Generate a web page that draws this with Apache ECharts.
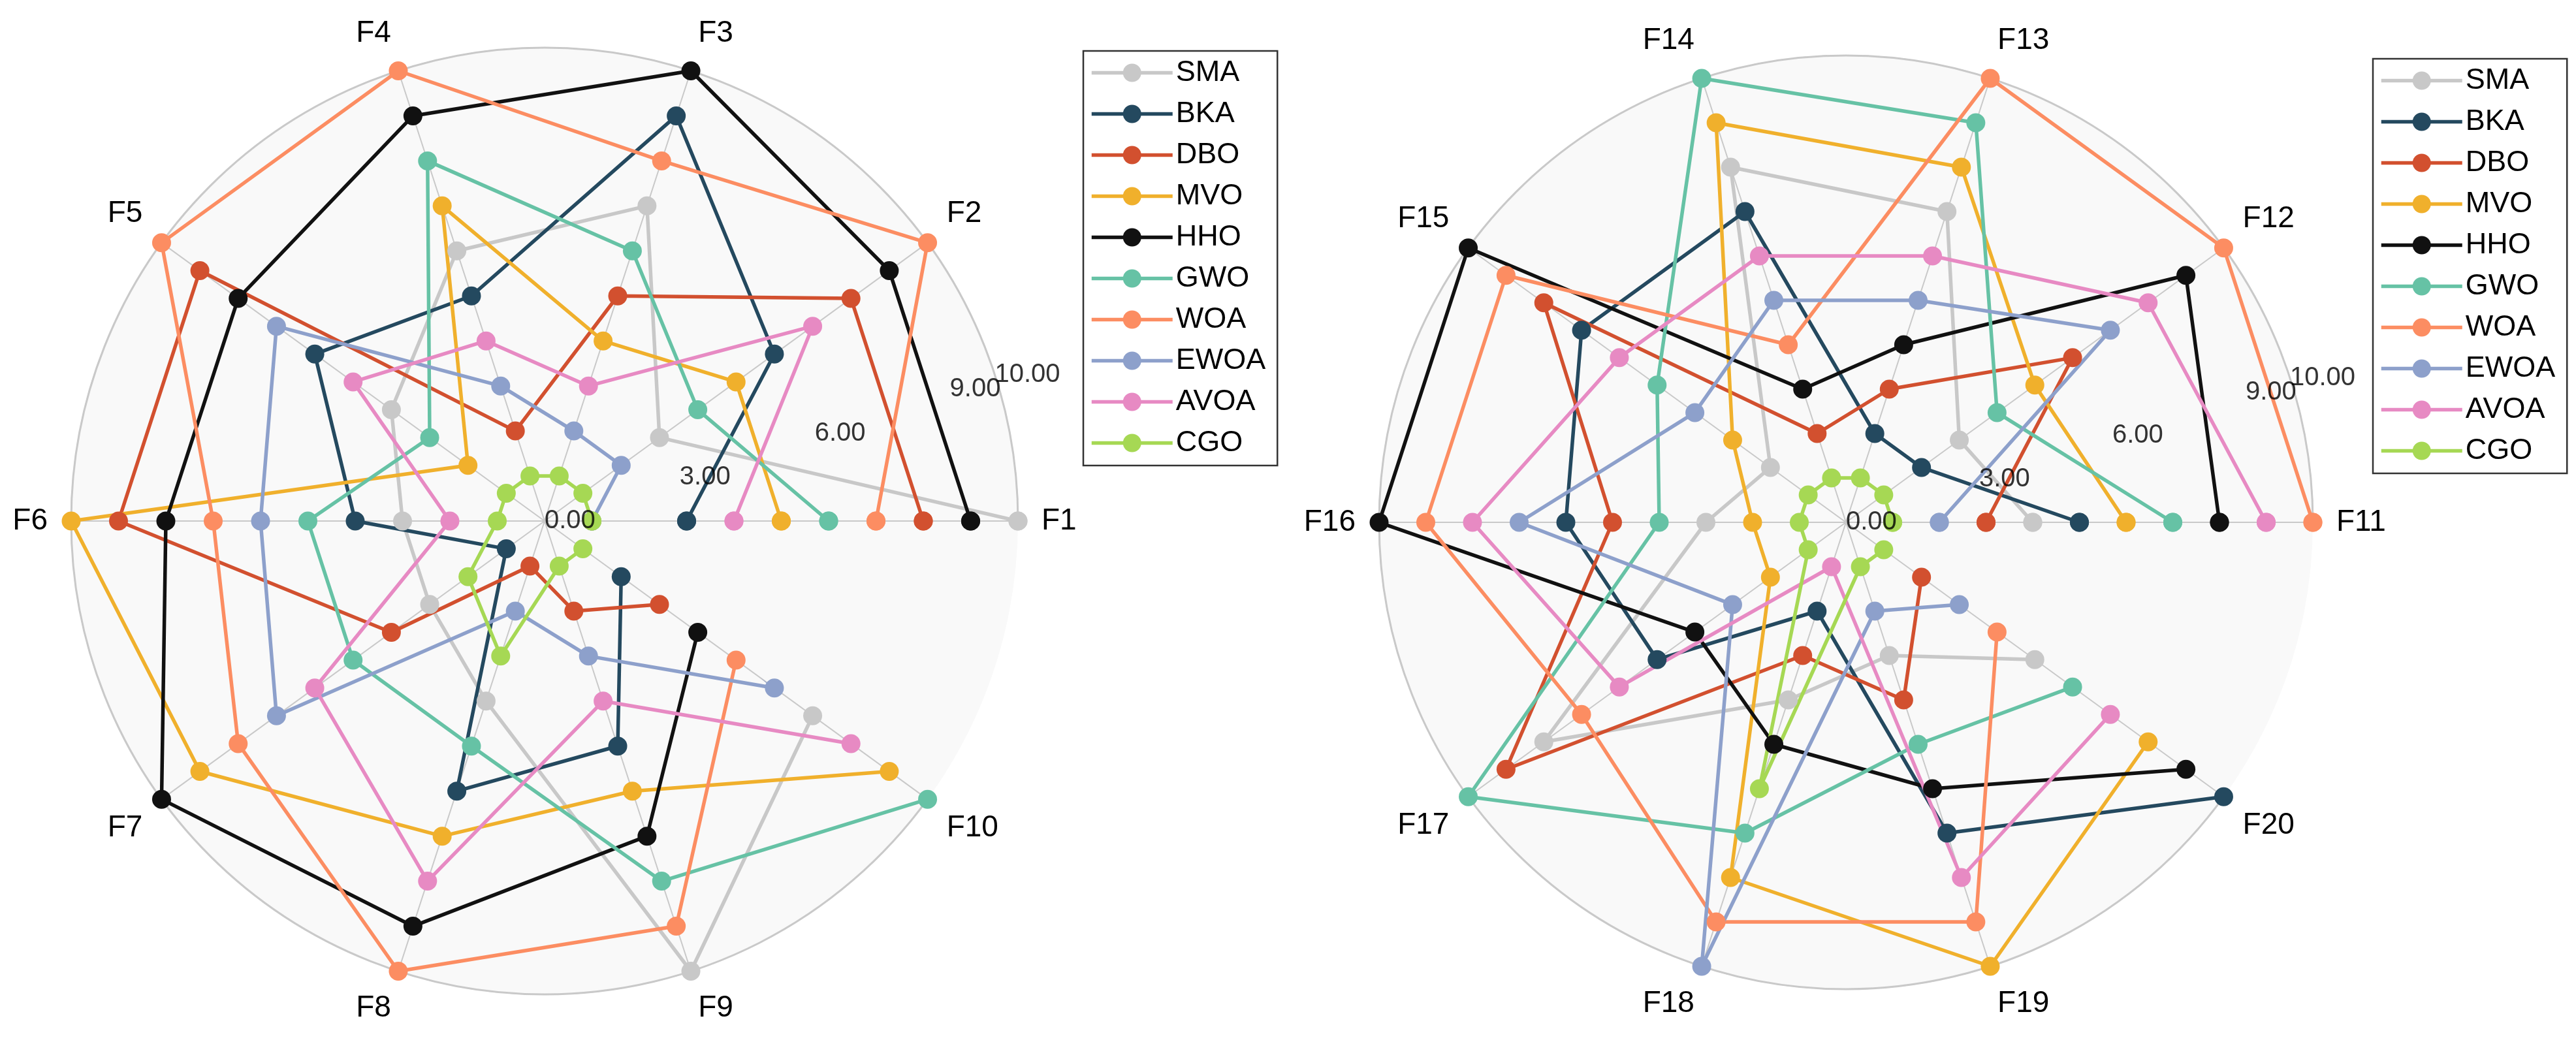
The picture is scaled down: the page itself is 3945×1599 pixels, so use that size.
<!DOCTYPE html>
<html>
<head>
<meta charset="utf-8">
<script src="https://cdn.jsdelivr.net/npm/echarts@6/dist/echarts.min.js"></script>
<style>
html,body{margin:0;padding:0;background:#ffffff;}
#chart{width:3945px;height:1599px;}
</style>
</head>
<body>
<div id="chart"></div>
<script>
// ---------- data ----------
const categoriesA = ['F1','F2','F3','F4','F5','F6','F7','F8','F9','F10'];
const categoriesB = ['F11','F12','F13','F14','F15','F16','F17','F18','F19','F20'];
const algorithms = ['SMA','BKA','DBO','MVO','HHO','GWO','WOA','EWOA','AVOA','CGO'];
const radialTicks = [0, 3, 6, 9, 10];

// left chart (F1..F10)
const SMA_A  = [10, 3, 7, 6, 4, 3, 3, 4, 10, 7];
const BKA_A  = [3, 6, 9, 5, 6, 4, 1, 6, 5, 2];
const DBO_A  = [8, 8, 5, 2, 9, 9, 4, 1, 2, 3];
const MVO_A  = [5, 5, 4, 7, 2, 10, 9, 7, 6, 9];
const HHO_A  = [9, 9, 10, 9, 8, 8, 10, 9, 7, 4];
const GWO_A  = [6, 4, 6, 8, 3, 5, 5, 5, 8, 10];
const WOA_A  = [7, 10, 8, 10, 10, 7, 8, 10, 9, 5];
const EWOA_A = [1, 2, 2, 3, 7, 6, 7, 2, 3, 6];
const AVOA_A = [4, 7, 3, 4, 5, 2, 6, 8, 4, 8];
const CGO_A  = [1, 1, 1, 1, 1, 1, 2, 3, 1, 1];

// right chart (F11..F20)
const SMA_B  = [4, 3, 7, 8, 2, 3, 8, 4, 3, 5];
const BKA_B  = [5, 2, 2, 7, 7, 6, 5, 2, 7, 10];
const DBO_B  = [3, 6, 3, 2, 8, 5, 9, 3, 4, 2];
const MVO_B  = [6, 5, 8, 9, 3, 2, 2, 8, 10, 8];
const HHO_B  = [8, 9, 4, 3, 10, 10, 4, 5, 6, 9];
const GWO_B  = [7, 4, 9, 10, 5, 4, 10, 7, 5, 6];
const WOA_B  = [10, 10, 10, 4, 9, 9, 7, 9, 9, 4];
const EWOA_B = [2, 7, 5, 5, 4, 7, 3, 10, 2, 3];
const AVOA_B = [9, 8, 6, 6, 6, 8, 6, 1, 8, 7];
const CGO_B  = [1, 1, 1, 1, 1, 1, 1, 6, 1, 1];

const valuesA = [SMA_A, BKA_A, DBO_A, MVO_A, HHO_A, GWO_A, WOA_A, EWOA_A, AVOA_A, CGO_A];
const valuesB = [SMA_B, BKA_B, DBO_B, MVO_B, HHO_B, GWO_B, WOA_B, EWOA_B, AVOA_B, CGO_B];

// ---------- styles ----------
const colors = ['#c8c8c8','#24495f','#d2502f','#f0b02c','#111111','#66c2a5','#fc8d62','#8da0cb','#e78ac3','#a6d854'];
const FONT = 'Liberation Sans, Arial, Helvetica, sans-serif';
const GRID = '#c9c9c9';
const TICK_LABEL_ANGLE = 18; // direction (degrees) along which the radial tick labels sit

const chart = echarts.init(document.getElementById('chart'), null, {renderer: 'canvas'});

function mainAngleAxis(polarIndex, cats) {
  return {
    polarIndex: polarIndex, type: 'category', data: cats,
    startAngle: 0, clockwise: false, boundaryGap: false,
    axisLine: {show: true, lineStyle: {color: GRID, width: 3}},
    axisTick: {show: false},
    splitLine: {show: true, lineStyle: {color: GRID, width: 2}},
    axisLabel: {show: true, interval: 0, margin: 36, fontSize: 46, color: '#000', fontFamily: FONT},
    z: 1
  };
}
function mainRadiusAxis(polarIndex) {
  return {
    polarIndex: polarIndex, type: 'value', min: 0, max: 10, interval: 3,
    axisLine: {show: false}, axisTick: {show: false}, axisLabel: {show: false},
    splitLine: {show: true, lineStyle: {color: GRID, width: 2, type: [18, 14]}},
    splitArea: {show: true, areaStyle: {color: ['#f9f9f9']}},
    z: 0
  };
}
function overlayAngleAxis(polarIndex) {
  return {polarIndex: polarIndex, type: 'value', min: 0, max: 360, startAngle: 0, clockwise: false, show: false};
}
function overlayRadiusAxis(polarIndex) {
  return {polarIndex: polarIndex, type: 'value', min: 0, max: 10, show: false};
}

const series = [];
function addSeries(polarIndex, cats, values) {
  algorithms.forEach(function (name, k) {
    const vals = values[k];
    const data = cats.map(function (c, i) { return [vals[i], c]; });
    data.push([vals[0], cats[0]]);
    series.push({
      type: 'line', name: name, coordinateSystem: 'polar', polarIndex: polarIndex,
      data: data, symbol: 'circle', symbolSize: 29, clip: false,
      lineStyle: {width: 5.5, color: colors[k]},
      itemStyle: {color: colors[k]},
      emphasis: {disabled: true},
      z: 3
    });
  });
}
addSeries(0, categoriesA, valuesA);
addSeries(1, categoriesB, valuesB);

function addTickLabels(polarIndex) {
  series.push({
    type: 'scatter', coordinateSystem: 'polar', polarIndex: polarIndex,
    data: radialTicks.map(function (t) { return [t, TICK_LABEL_ANGLE]; }),
    symbolSize: 0, clip: false, silent: true, z: 20,
    itemStyle: {color: 'rgba(0,0,0,0)'},
    label: {
      show: true, position: 'right', distance: 0,
      fontSize: 40, color: '#000', fontFamily: FONT,
      formatter: function (p) { return Number(p.value[0]).toFixed(2); }
    },
    labelLayout: {hideOverlap: false},
    emphasis: {disabled: true}
  });
}
addTickLabels(2);
addTickLabels(3);

function legendAt(left, top) {
  return {
    orient: 'vertical', left: left, top: top, data: algorithms,
    itemWidth: 124, itemHeight: 35, itemGap: 18,
    padding: [11, 18, 12, 10],
    borderColor: '#333', borderWidth: 2.5, backgroundColor: '#fff',
    lineStyle: {width: 5.5},
    textStyle: {fontSize: 45, color: '#000', fontFamily: FONT},
    selectedMode: false
  };
}

const option = {
  animation: false,
  backgroundColor: '#ffffff',
  textStyle: {fontFamily: FONT},
  polar: [
    {center: [834, 798], radius: 725},
    {center: [2827, 800], radius: 715},
    {center: [834, 798], radius: 725},
    {center: [2827, 800], radius: 715}
  ],
  angleAxis: [mainAngleAxis(0, categoriesA), mainAngleAxis(1, categoriesB), overlayAngleAxis(2), overlayAngleAxis(3)],
  radiusAxis: [mainRadiusAxis(0), mainRadiusAxis(1), overlayRadiusAxis(2), overlayRadiusAxis(3)],
  legend: [legendAt(1659, 78), legendAt(3634, 90)],
  series: series
};
chart.setOption(option);
</script>
</body>
</html>
